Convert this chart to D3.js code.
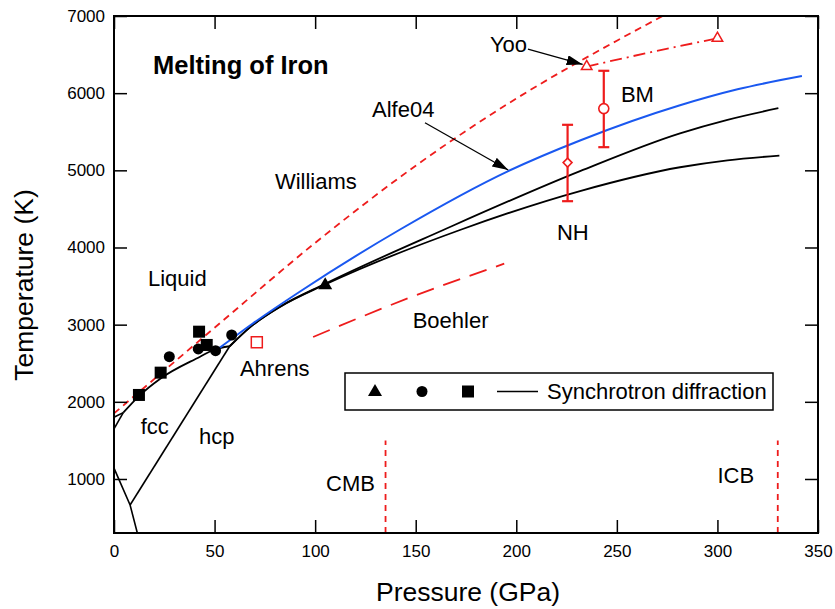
<!DOCTYPE html>
<html><head><meta charset="utf-8">
<script src="https://cdn.jsdelivr.net/npm/d3@7"></script>
<style>body{margin:0;background:#fff} text{font-family:"Liberation Sans",Arial,Helvetica,sans-serif;fill:#000}</style>
</head><body><svg id="c" width="835" height="609"></svg>
<script>
// ---- data ----
const xTicks=[0,50,100,150,200,250,300,350];
const yTicks=[1000,2000,3000,4000,5000,6000,7000];
const williams=[[0,1850],[50,2960],[100,4060],[150,5060],[200,5930],[250,6680],[275,7030]];
const yooLine=[[235,6345],[265,6520],[300,6711]];
const yooPoints=[[235,6345],[300,6711]];
const boehler=[[99,2840],[146,3340],[194,3790]];
const ahrens=[[71,2772]];
const alfe04=[[52,2690],[69,3015],[92.5,3430],[142,4230],[196,4990],[232,5390],[281,5840],[310,6050],[342,6222]];
const hcpUpper=[[57.5,2720],[68,2975],[82.5,3233],[105,3530],[163.7,4227],[231.7,4990],[281.4,5480],[305,5655],[330.3,5805]];
const hcpLower=[[57.5,2720],[68,2975],[82.5,3230],[105,3520],[172,4227],[231.7,4732],[281.4,5040],[305,5130],[330.8,5190]];
const fccMelt=[[4.6,1860],[12.4,2075],[23,2300],[42.8,2585],[49.4,2672],[57.5,2720]];
const deltaMelt=[[0,1800],[4.6,1860]];
const deltaFcc=[[0,1650],[4.6,1860]];
const fccHcp=[[8,663],[57.5,2720]];
const bccLine=[[0,1140],[8,663],[11.6,300]];
const triSynch=[[105,3510]];
const circSynch=[[27.5,2585],[41.9,2685],[50.5,2663],[58.5,2866]];
const sqSynch=[[12.4,2089],[23.2,2378],[42.3,2909],[46.1,2737]];
const errNH={p:225.5,t:5100,lo:4600,hi:5590};
const errBM={p:243.5,t:5800,lo:5300,hi:6290};
const boundaries=[{name:"CMB",p:135,t0:300,t1:1500},{name:"ICB",p:330,t0:300,t1:1500}];
const labels=[
 {t:"Liquid",p:16.9,T:3501},{t:"Williams",p:80,T:4758},{t:"Alfe04",p:128.3,T:5691},
 {t:"Yoo",p:186.9,T:6533},{t:"BM",p:252,T:5885},{t:"NH",p:220.2,T:4097},
 {t:"Boehler",p:148.5,T:2957},{t:"Ahrens",p:62.6,T:2335},{t:"fcc",p:13.3,T:1583},
 {t:"hcp",p:42.3,T:1453},{t:"CMB",p:105.4,T:844},{t:"ICB",p:300,T:948}
];
const arrows=[{from:[205.8,6572],to:[233,6372]},{from:[154.6,5617],to:[196,5004]}];

// ---- setup ----
const svg=d3.select("#c");
const x=d3.scaleLinear().domain([0,350]).range([114,818]);
const y=d3.scaleLinear().domain([300,7000]).range([533,16]);
const RED="#ee1c1c", BLUE="#1a58f0";

const defs=svg.append("defs");
defs.append("clipPath").attr("id","clip").append("rect")
 .attr("x",x(0)).attr("y",y(7000)).attr("width",x(350)-x(0)).attr("height",y(300)-y(7000));
defs.append("marker").attr("id","arr").attr("markerUnits","userSpaceOnUse")
 .attr("markerWidth",18).attr("markerHeight",12).attr("refX",16).attr("refY",5)
 .attr("orient","auto").append("path").attr("d","M0,0 L16,5 L0,10 Z").attr("fill","#000");

const plot=svg.append("g").attr("clip-path","url(#clip)");
const lineS=d3.line().x(d=>x(d[0])).y(d=>y(d[1])).curve(d3.curveMonotoneX);
const lineL=d3.line().x(d=>x(d[0])).y(d=>y(d[1]));

// red reference lines
plot.append("path").attr("d",lineS(williams)).attr("fill","none").attr("stroke",RED).attr("stroke-width",1.8).attr("stroke-dasharray","7,5");
plot.append("path").attr("d",lineS(yooLine)).attr("fill","none").attr("stroke",RED).attr("stroke-width",1.8).attr("stroke-dasharray","12,5,2,5");
plot.append("path").attr("d",lineS(boehler)).attr("fill","none").attr("stroke",RED).attr("stroke-width",1.8).attr("stroke-dasharray","18,10");
boundaries.forEach(b=>{
 plot.append("path").attr("d",lineL([[b.p,b.t0],[b.p,b.t1]])).attr("fill","none").attr("stroke",RED).attr("stroke-width",1.8).attr("stroke-dasharray","6,5");
});

// black phase lines
[hcpUpper,hcpLower,fccMelt].forEach(s=>plot.append("path").attr("d",lineS(s)).attr("fill","none").attr("stroke","#000").attr("stroke-width",1.8));
[deltaMelt,deltaFcc,fccHcp,bccLine].forEach(s=>plot.append("path").attr("d",lineL(s)).attr("fill","none").attr("stroke","#000").attr("stroke-width",1.6));
// blue
plot.append("path").attr("d",lineS(alfe04)).attr("fill","none").attr("stroke",BLUE).attr("stroke-width",2);

// synchrotron markers
plot.selectAll(".tri").data(triSynch).enter().append("path")
 .attr("transform",d=>`translate(${x(d[0])},${y(d[1])})`).attr("d",d3.symbol(d3.symbolTriangle,85)()).attr("fill","#000");
plot.selectAll(".cir").data(circSynch).enter().append("circle")
 .attr("cx",d=>x(d[0])).attr("cy",d=>y(d[1])).attr("r",5.5).attr("fill","#000");
plot.selectAll(".sq").data(sqSynch).enter().append("rect")
 .attr("x",d=>x(d[0])-6).attr("y",d=>y(d[1])-6).attr("width",12).attr("height",12).attr("fill","#000");

// red open markers
plot.selectAll(".ah").data(ahrens).enter().append("rect")
 .attr("x",d=>x(d[0])-5.5).attr("y",d=>y(d[1])-5.5).attr("width",11).attr("height",11).attr("fill","none").attr("stroke",RED).attr("stroke-width",1.5);
plot.selectAll(".yoo").data(yooPoints).enter().append("path")
 .attr("transform",d=>`translate(${x(d[0])},${y(d[1])})`).attr("d",d3.symbol(d3.symbolTriangle,48)()).attr("fill","#fff").attr("stroke",RED).attr("stroke-width",1.5);

// error bars
[errNH,errBM].forEach((e,i)=>{
 const g=plot.append("g").attr("stroke",RED).attr("stroke-width",2.2).attr("fill","none");
 g.append("line").attr("x1",x(e.p)).attr("x2",x(e.p)).attr("y1",y(e.lo)).attr("y2",y(e.hi));
 [e.lo,e.hi].forEach(v=>g.append("line").attr("x1",x(e.p)-5.5).attr("x2",x(e.p)+5.5).attr("y1",y(v)).attr("y2",y(v)));
 if(i===0) g.append("path").attr("transform",`translate(${x(e.p)},${y(e.t)})`).attr("d",d3.symbol(d3.symbolDiamond2,50)()).attr("fill","#fff").attr("stroke-width",1.6);
 else g.append("circle").attr("cx",x(e.p)).attr("cy",y(e.t)).attr("r",5).attr("fill","#fff").attr("stroke-width",1.6);
});

// arrows
arrows.forEach(a=>svg.append("path").attr("d",lineL([a.from,a.to])).attr("stroke","#000").attr("stroke-width",1.3).attr("fill","none").attr("marker-end","url(#arr)"));

// labels
svg.selectAll(".lab").data(labels).enter().append("text")
 .attr("x",d=>x(d.p)).attr("y",d=>y(d.T)).attr("font-size",22).text(d=>d.t);
svg.append("text").attr("x",153).attr("y",74).attr("font-size",25.5).attr("font-weight","bold").text("Melting of Iron");

// axes
const ax=d3.axisBottom(x).tickValues(xTicks).tickSize(-13).tickPadding(12).tickFormat(d3.format("d"));
const gx=svg.append("g").attr("transform",`translate(0,${y(300)})`).call(ax);
const ay=d3.axisLeft(y).tickValues(yTicks).tickSize(-13).tickPadding(9).tickFormat(d3.format("d"));
const gy=svg.append("g").attr("transform",`translate(${x(0)},0)`).call(ay);
const gt=svg.append("g").attr("transform",`translate(0,${y(7000)})`).call(d3.axisTop(x).tickValues(xTicks).tickSize(-13).tickFormat(""));
const gr=svg.append("g").attr("transform",`translate(${x(350)},0)`).call(d3.axisRight(y).tickValues(yTicks).tickSize(-13).tickFormat(""));
[gx,gy,gt,gr].forEach(g=>{g.select(".domain").remove();g.selectAll(".tick line").attr("stroke","#000").attr("stroke-width",1.5);
 g.selectAll("text").attr("font-size",17).attr("font-family","Liberation Sans, Arial, sans-serif").attr("fill","#000");});
svg.append("rect").attr("x",x(0)).attr("y",y(7000)).attr("width",x(350)-x(0)).attr("height",y(300)-y(7000))
 .attr("fill","none").attr("stroke","#000").attr("stroke-width",2);

// axis titles
svg.append("text").attr("x",468).attr("y",601).attr("text-anchor","middle").attr("font-size",26.5).text("Pressure (GPa)");
svg.append("text").attr("transform","translate(33,285) rotate(-90)").attr("text-anchor","middle").attr("font-size",26.5).text("Temperature (K)");

// legend
const leg=svg.append("g");
leg.append("rect").attr("x",345).attr("y",373).attr("width",428).attr("height",37).attr("fill","#fff").attr("stroke","#000").attr("stroke-width",1.5);
leg.append("path").attr("transform","translate(375,392)").attr("d",d3.symbol(d3.symbolTriangle,85)()).attr("fill","#000");
leg.append("circle").attr("cx",422).attr("cy",391.5).attr("r",5.5).attr("fill","#000");
leg.append("rect").attr("x",462).attr("y",385.5).attr("width",12).attr("height",12).attr("fill","#000");
leg.append("line").attr("x1",497).attr("x2",538).attr("y1",391.5).attr("y2",391.5).attr("stroke","#000").attr("stroke-width",1.6);
leg.append("text").attr("x",547).attr("y",399).attr("font-size",22).text("Synchrotron diffraction");
</script></body></html>
